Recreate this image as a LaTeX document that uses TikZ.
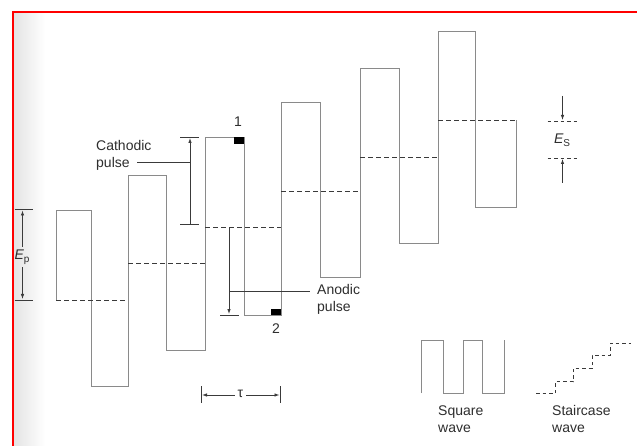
\documentclass[tikz,border=0pt]{standalone}
\usepackage{fontspec}
\setmainfont{Liberation Sans}
\usetikzlibrary{arrows.meta}
\definecolor{wline}{HTML}{8A8A8A}
\definecolor{dline}{HTML}{3A3A3A}
\definecolor{txt}{HTML}{2E2E2E}
\tikzset{
  wave/.style={draw=wline, line width=0.9pt},
  level/.style={draw=dline, line width=0.9pt, dash pattern=on 4.5pt off 3.5pt},
  smalldash/.style={draw=dline, line width=0.9pt, dash pattern=on 3.5pt off 3pt},
  dim/.style={draw=dline, line width=0.8pt},
  dimarrow/.style={dim, -{Latex[length=5pt,width=3.5pt]}},
  lbl/.style={text=txt, font=\fontsize{14}{17}\selectfont, inner sep=0pt, align=left},
  sampmark/.style={fill=black, draw=none},
}
\newcommand{\Esym}[1]{{\itshape E}{\fontsize{10}{10}\selectfont\raisebox{-2.5pt}{#1}}}
\begin{document}
\begin{tikzpicture}[x=1pt,y=-1pt]
\useasboundingbox (0,0) rectangle (637,446);
\fill[white] (0,0) rectangle (637,446);
% scan shading at left
\shade[left color=gray!22, right color=white, draw=none] (13,12) rectangle (45,446);
% red frame
\draw[red, line width=2pt] (13,446) -- (13,12) -- (637,12);

% square wave superimposed on staircase
\draw[wave] (56,300) -- (56,210) -- (91,210) -- (91,386.5) -- (128,386.5) -- (128,175.5)
  -- (166,175.5) -- (166,350) -- (205,350) -- (205,137.5) -- (244,137.5) -- (244,315)
  -- (281,315) -- (281,102.5) -- (320,102.5) -- (320,277.5) -- (360,277.5) -- (360,68.5)
  -- (399,68.5) -- (399,243) -- (438,243) -- (438,31.5) -- (475,31.5) -- (475,207.5)
  -- (516,207.5) -- (516,120.5);
% staircase levels
\draw[level] (56,300) -- (128,300);
\draw[level] (128,263.5) -- (205,263.5);
\draw[level] (205,227.5) -- (281,227.5);
\draw[level] (281,191) -- (360,191);
\draw[level] (360,157.5) -- (438,157.5);
\draw[level] (438,120.5) -- (516,120.5);

% sampling marks
\fill[sampmark] (234,137.5) rectangle (244,144);
\fill[sampmark] (271,309) rectangle (281,315);
\node[lbl] (n1) at (238,122) {1};
\node[lbl] (n2) at (276,329) {2};

% E_p dimension
\draw[dim] (14.5,209.5) -- (33,209.5);
\draw[dim] (14.5,300) -- (33,300);
\node[lbl] (ep) at (22,257) {\Esym{p}};
\coordinate (epT) at (22.5,210.5);
\coordinate (epB) at (22.5,299);
\draw[dimarrow] (ep.north) ++(0.5,-3) -- (epT);
\draw[dimarrow] (ep.south) ++(0.5,3) -- (epB);

% cathodic pulse
\draw[dim] (180,137) -- (199,137);
\draw[dim] (180,224) -- (199,224);
\coordinate (catB) at (190,224);
\coordinate (catT) at (190,138);
\draw[dimarrow] (catB) -- (catT);
\node[lbl, anchor=west] (cath) at (96,155.5) {Cathodic\\pulse};
\coordinate (catL) at (190,162.5);
\draw[dim] (137,162.5) -- (catL);

% anodic pulse
\coordinate (anT) at (229,228);
\coordinate (anB) at (229,314);
\draw[dimarrow] (anT) -- (anB);
\draw[dim] (220,315) -- (239,315);
\node[lbl, anchor=west] (anod) at (317,299) {Anodic\\pulse};
\coordinate (anL) at (229,291);
\draw[dim] (anL) -- (310,291);

% tau
\draw[dim] (201.5,386) -- (201.5,403);
\draw[dim] (280,386) -- (280,403);
\node[lbl] (tau) at (240.5,394) {τ};
\coordinate (tauL) at (202,395);
\coordinate (tauR) at (279.5,395);
\draw[dimarrow] (tau.west) ++(-3,1) -- (tauL);
\draw[dimarrow] (tau.east) ++(3,1) -- (tauR);

% E_S
\draw[smalldash] (547.5,121) -- (577,121);
\draw[smalldash] (547.5,158) -- (577,158);
\coordinate (esT) at (562.5,120);
\coordinate (esB) at (562.5,159);
\draw[dimarrow] (562.5,96) -- (esT);
\draw[dimarrow] (562.5,183) -- (esB);
\node[lbl] (es) at (562,140) {\Esym{S}};

% legend: square wave
\draw[wave] (421,393) -- (421,340) -- (443,340) -- (443,393) -- (463,393) -- (463,340)
  -- (482,340) -- (482,393) -- (504,393) -- (504,340);
\node[lbl, anchor=west] (sq) at (438,419) {Square\\wave};
% legend: staircase wave
\draw[smalldash] (536,393.5) -- (555,393.5) -- (555,381.5) -- (573,381.5) -- (573,368)
  -- (592,368) -- (592,355) -- (610,355) -- (610,343) -- (631,343);
\node[lbl, anchor=west] (st) at (552,419) {Staircase\\wave};
\end{tikzpicture}
\end{document}
